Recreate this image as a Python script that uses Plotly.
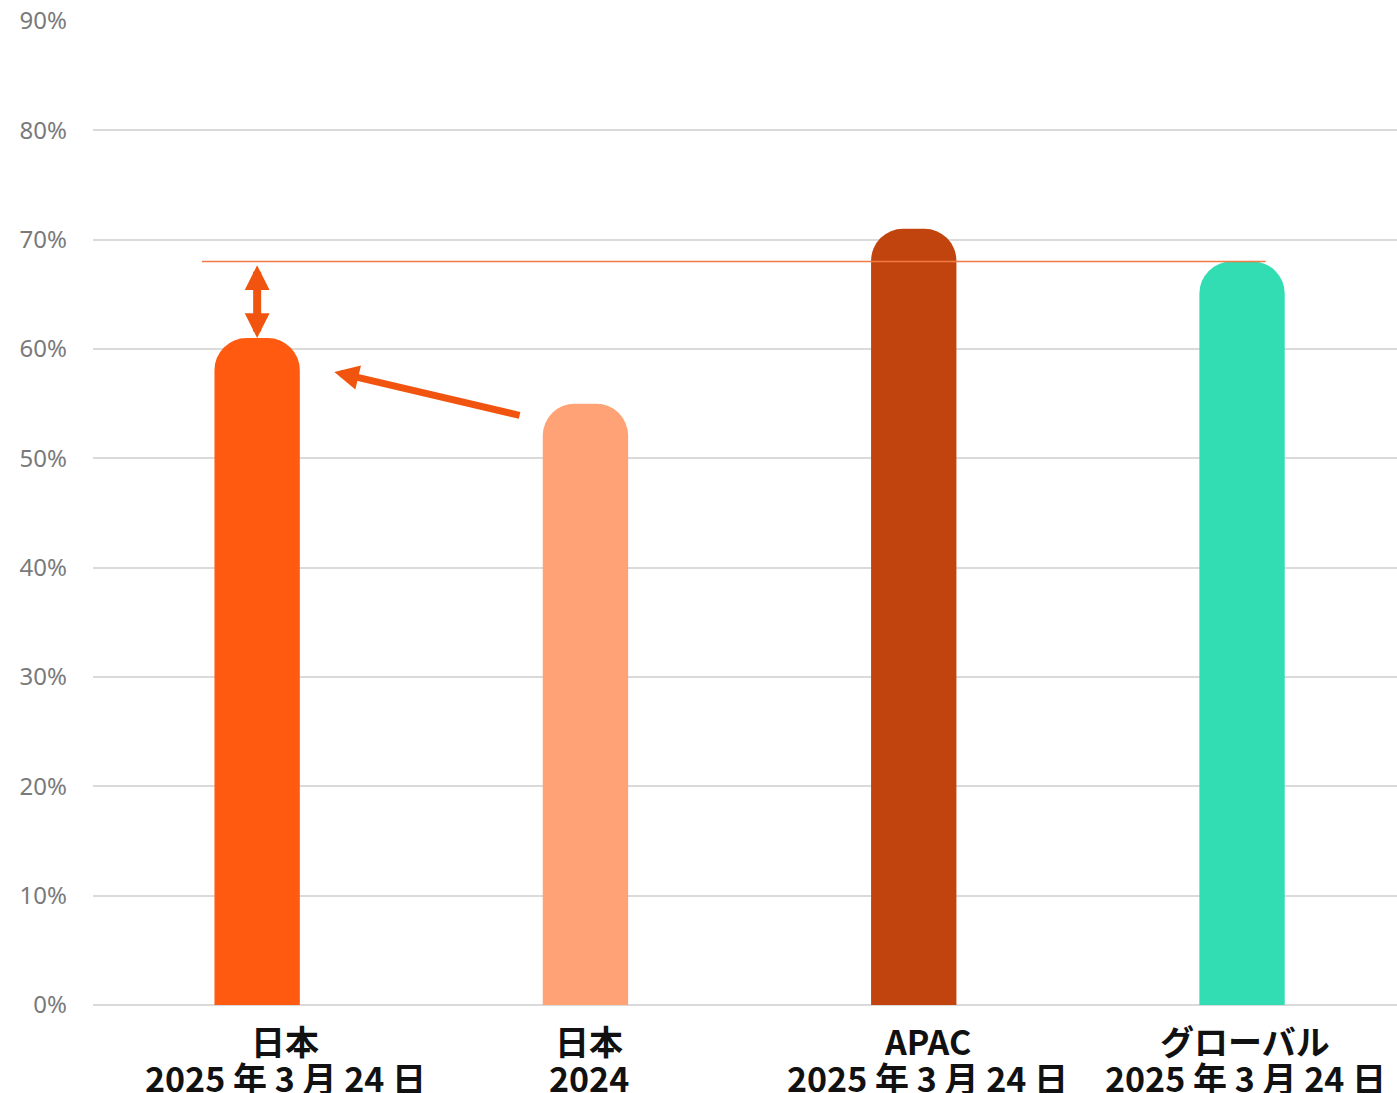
import plotly.graph_objects as go

# Share of respondents by region / survey date
cat_names = ["日本", "日本", "APAC", "グローバル"]
cat_dates = ["2025 年 3 月 24 日", "2024", "2025 年 3 月 24 日", "2025 年 3 月 24 日"]
values = [0.61, 0.55, 0.71, 0.68]
bar_colors = ["#FF5A10", "#FFA275", "#C1440E", "#33DDB3"]
label_shift = [28, 4, 14, 3]

y_ticks = [i / 10 for i in range(10)]

x_pos = list(range(len(cat_names)))
accent = "#F0540F"

fig = go.Figure()
fig.add_trace(go.Bar(
    x=x_pos,
    y=values,
    width=0.26,
    marker=dict(color=bar_colors, cornerradius=32, line=dict(width=0)),
    hoverinfo="skip",
))

# benchmark line at the global value
global_val = values[3]
fig.add_shape(type="line", xref="x", yref="y",
              x0=x_pos[0] - 0.168, x1=x_pos[3] - 0.168 + 0.24,
              y0=global_val, y1=global_val,
              line=dict(color="#F27A45", width=1.5), layer="above")

# gap between Japan 2025 and the global benchmark
fig.add_annotation(x=x_pos[0], y=values[0], ax=x_pos[0], ay=global_val - 0.002,
                   xref="x", yref="y", axref="x", ayref="y", text="",
                   showarrow=True, arrowhead=2, startarrowhead=2, arrowside="end+start",
                   arrowwidth=8, arrowsize=0.62, startarrowsize=0.62, arrowcolor=accent)

# change from 2024 to 2025 in Japan
fig.add_annotation(x=x_pos[0] + 0.235, y=values[0] - 0.031,
                   ax=x_pos[1] - 0.196, ay=values[1] - 0.011,
                   xref="x", yref="y", axref="x", ayref="y", text="",
                   showarrow=True, arrowhead=2, arrowwidth=7, arrowsize=0.7,
                   arrowcolor=accent)

# two-line category labels under the axis
label_font = dict(family="Noto Sans CJK JP", size=34, color="#111111", weight="bold")
for xp, name, date, dx in zip(x_pos, cat_names, cat_dates, label_shift):
    fig.add_annotation(x=xp, y=0, xref="x", yref="y", text=name, showarrow=False,
                       yanchor="middle", yshift=-35, xshift=dx, font=label_font)
    fig.add_annotation(x=xp, y=0, xref="x", yref="y", text=date, showarrow=False,
                       yanchor="middle", yshift=-72, xshift=dx, font=label_font)

fig.update_layout(
    width=1397, height=1093,
    margin=dict(l=93, r=0, t=21, b=88),
    plot_bgcolor="white", paper_bgcolor="white",
    showlegend=False,
    xaxis=dict(range=[-0.5, 3.472], showticklabels=False, showgrid=False,
               zeroline=False, fixedrange=True),
    yaxis=dict(range=[0, 0.9], tickvals=y_ticks, tickformat=".0%",
               showgrid=True, gridcolor="#DADADA", gridwidth=1.5,
               zeroline=True, zerolinecolor="#DADADA", zerolinewidth=2,
               tickfont=dict(family="Noto Sans", size=24, color="#7A7A7A"),
               ticklabelstandoff=25),
)

fig.write_html("out.html")
